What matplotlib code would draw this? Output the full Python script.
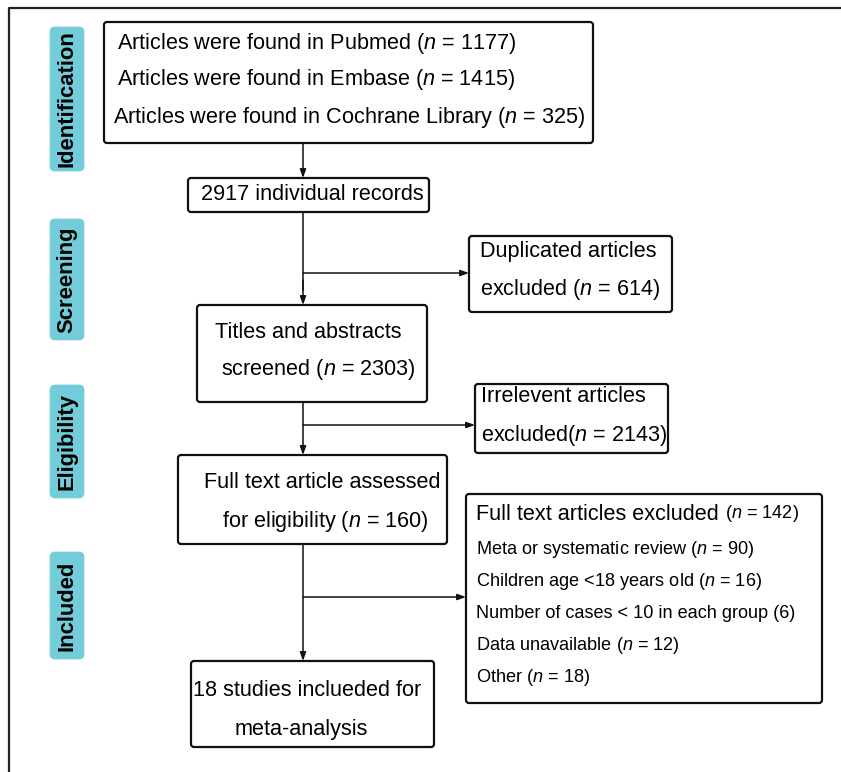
import matplotlib.pyplot as plt
from matplotlib.patches import FancyBboxPatch

plt.rcParams['font.family'] = ['Liberation Sans', 'DejaVu Sans']
plt.rcParams['mathtext.fontset'] = 'custom'
plt.rcParams['mathtext.rm'] = 'Liberation Sans'
plt.rcParams['mathtext.it'] = 'Liberation Sans:italic'

# stage labels on the left
stages = ['Identification', 'Screening', 'Eligibility', 'Included']

# record counts
sources = ['Pubmed', 'Embase', 'Cochrane Library']
source_n = [1177, 1415, 325]
records_n = 2917
duplicates_n = 614
screened_n = 2303
irrelevant_n = 2143
fulltext_n = 160
excluded_n = 142
reasons = ['Meta or systematic review', 'Children age <18 years old',
           'Number of cases < 10 in each group', 'Data unavailable', 'Other']
reason_n = [90, 16, 6, 12, 18]
reason_fmt = ['n', 'n', 'plain', 'n', 'n']
included_n = 18

W, H = 841, 772
fig = plt.figure(figsize=(W / 100, H / 100), dpi=100)
ax = fig.add_axes([0, 0, 1, 1])
ax.set_xlim(0, W)
ax.set_ylim(H, 0)
ax.axis('off')

LW = 1.6
CYAN = '#72CCDA'
FS = 15.6
FS_SMALL = 13.1

# outer frame (open on the right and bottom)
ax.plot([9, 9, W + 5], [H + 5, 8, 8], color='#222222', lw=LW, solid_capstyle='butt')


def box(x0, y0, x1, y1, fc='white', ec='#111111', r=3, lw=LW):
    p = FancyBboxPatch((x0, y0), x1 - x0, y1 - y0,
                       boxstyle=f'round,pad=0,rounding_size={r}',
                       fc=fc, ec=ec, lw=lw, zorder=2)
    ax.add_patch(p)


def txt(x, y, s, fs=FS, **kw):
    return ax.text(x, y, s, fontsize=fs, va='center', ha='left', zorder=3, **kw)


def arrow(x0, y0, x1, y1):
    ax.annotate('', xy=(x1, y1), xytext=(x0, y0),
                arrowprops=dict(arrowstyle='-|>,head_length=0.5,head_width=0.18',
                                color='#111111', lw=1.1, shrinkA=0, shrinkB=0),
                zorder=1)


# stage labels
stage_y = [(27, 171), (219, 340), (385, 498), (552, 659)]
for name, (y0, y1) in zip(stages, stage_y):
    box(50, y0, 84, y1, fc=CYAN, ec=CYAN, r=5, lw=0.5)
    ax.text(67, (y0 + y1) / 2, name, rotation=90, fontsize=15.8, fontweight='bold',
            ha='center', va='center', zorder=3)

CX = 303

# identification box
box(104, 22, 593, 143)
src_x = [117, 117, 113]
src_y = [44, 80, 118]
for s, n, x, y in zip(sources, source_n, src_x, src_y):
    txt(x, y, f'Articles were found in {s} ($n$ = {n})')

arrow(CX, 143, CX, 178)

box(188, 178, 429, 212)
txt(201, 195, f'{records_n} individual records')

# screening
ax.plot([CX, CX], [212, 290], color='#111111', lw=1.1, zorder=1)
arrow(CX, 280, CX, 305)
arrow(CX, 273, 469, 273)
box(469, 236, 672, 312)
txt(480, 252, 'Duplicated articles')
txt(480, 289, f'excluded ($n$ = {duplicates_n})')

box(197, 305, 427, 402)
txt(215, 333, 'Titles and abstracts')
txt(221, 370, f'screened ($n$ = {screened_n})')

# eligibility
arrow(CX, 402, CX, 455)
arrow(CX, 425, 475, 425)
box(475, 384, 668, 453)
txt(481, 397, 'Irrelevent articles')
txt(481, 435, f'excluded($n$ = {irrelevant_n})')

box(178, 455, 447, 544)
txt(204, 483, 'Full text article assessed')
txt(222, 522, f'for eligibility ($n$ = {fulltext_n})')

# included
arrow(CX, 544, CX, 661)
arrow(CX, 597, 466, 597)
box(466, 494, 822, 703)
head = txt(476, 514, 'Full text articles excluded ', fs=FS)
fig.canvas.draw()
bb = head.get_window_extent().transformed(ax.transData.inverted())
txt(bb.x1, 514, f'($n$ = {excluded_n})', fs=FS_SMALL)
ry = [550, 582, 614, 646, 678]
for r, n, f, y in zip(reasons, reason_n, reason_fmt, ry):
    if f == 'n':
        txt(476, y, f'{r} ($n$ = {n})', fs=FS_SMALL)
    else:
        txt(476, y, f'{r} ({n})', fs=FS_SMALL)

box(191, 661, 434, 747)
txt(193, 691, f'{included_n} studies inclueded for')
txt(235, 730, 'meta-analysis')

fig.savefig('out.png', dpi=100, facecolor='white')
